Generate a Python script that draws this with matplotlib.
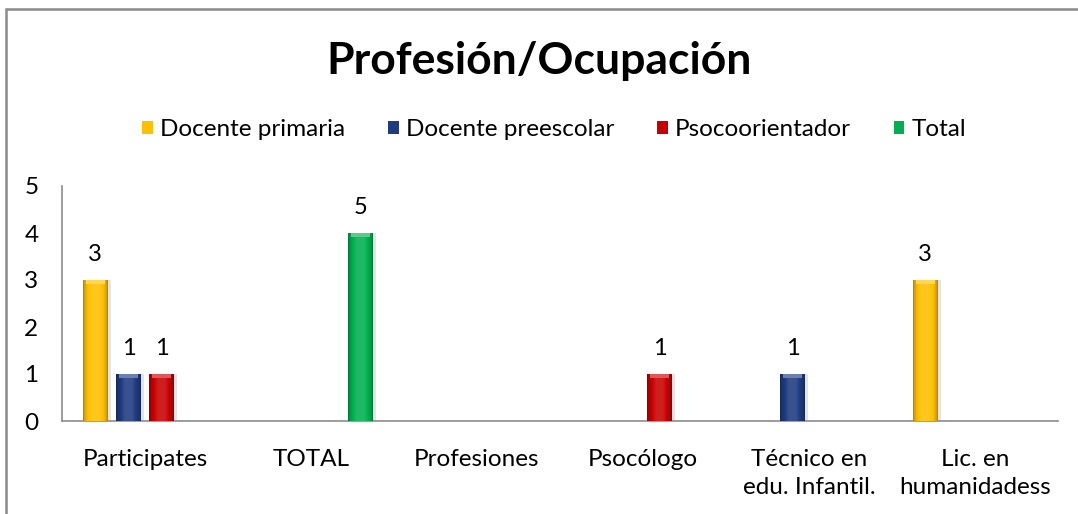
import numpy as np
import matplotlib
matplotlib.use("Agg")
import matplotlib.pyplot as plt
from matplotlib.patches import Patch, Rectangle
from matplotlib.colors import to_rgb

plt.rcParams['font.family'] = ['Lato', 'DejaVu Sans']

# data
categories = ["Participates", "TOTAL", "Profesiones", "Psocólogo",
              "Técnico en\nedu. Infantil.", "Lic. en\nhumanidadess"]
series_names = ["Docente primaria", "Docente preescolar", "Psocoorientador", "Total"]
docente_primaria = [3, 0, 0, 0, 0, 3]
docente_preescolar = [1, 0, 0, 0, 1, 0]
psocoorientador = [1, 0, 0, 1, 0, 0]
total = [0, 4, 0, 0, 0, 0]
# data labels as printed on the chart (the TOTAL bar is labelled 5)
total_labels = ["", "5", "", "", "", ""]
series_values = [docente_primaria, docente_preescolar, psocoorientador, total]
colors = ["#FFC000", "#1F3B80", "#C80000", "#00B050"]


def shade(c, f):
    r = np.array(to_rgb(c))
    if f >= 0:
        return r + (1 - r) * f
    return r * (1 + f)


fig = plt.figure(figsize=(10.78, 5.14), dpi=100)
ax = fig.add_axes([62 / 1078, 1 - 421 / 514, 996 / 1078, 235 / 514])

x = np.arange(len(categories))
step = 0.2
width = 0.15

for i, (vals, col) in enumerate(zip(series_values, colors)):
    pos = x + (i - 1.5) * step
    bars = ax.bar(pos, vals, width, color=col, zorder=3)
    labels = total_labels if series_names[i] == "Total" else [str(v) for v in vals]
    for b, v, lab in zip(bars, vals, labels):
        if v == 0:
            b.set_visible(False)
            continue
        x0, w, h = b.get_x(), b.get_width(), b.get_height()
        # horizontal gradient: darker edges, lighter middle
        t = np.linspace(0, 1, 60)
        prof = np.where(t < 0.5, -0.35 + 0.55 * (t / 0.5) ** 0.5, -0.35 + 0.55 * ((1 - t) / 0.5) ** 0.5)
        prof = np.clip(prof, -0.35, 0.12)
        img = np.array([[shade(col, p) for p in prof]])
        im = ax.imshow(img, extent=[x0, x0 + w, 0, h], aspect='auto', zorder=4,
                       interpolation='bilinear')
        im.set_clip_path(b)
        # lighter bevel at the top
        ax.add_patch(Rectangle((x0 + w * 0.12, h - 0.09), w * 0.76, 0.09,
                               color=shade(col, 0.35), lw=0, zorder=5))
        # soft shadow on the right
        ax.add_patch(Rectangle((x0 + w, 0), w * 0.12, h, color="#e4e4e4", lw=0, zorder=2))
        ax.text(b.get_x() + w / 2, h + 0.55, lab, ha='center', va='center',
                fontsize=17, color="#000000")

ax.set_xlim(-0.5, len(categories) - 0.5)
ax.set_ylim(0, 5)
ax.set_yticks(range(6))
ax.set_xticks(x)
ax.set_xticklabels(categories, fontsize=17.5, linespacing=1.4, va='top')
ax.tick_params(axis='both', length=0, labelsize=17.5)
ax.tick_params(axis='y', pad=17)
ax.tick_params(axis='x', pad=20)
for s in ['top', 'right']:
    ax.spines[s].set_visible(False)
for s in ['left', 'bottom']:
    ax.spines[s].set_color('#8c8c8c')
    ax.spines[s].set_linewidth(1.2)

fig.text(0.5, 1 - 61 / 514, "Profesión/Ocupación", ha='center', va='center',
         fontsize=32, fontweight='bold')

handles = [Patch(facecolor=c, edgecolor='none') for c in colors]
fig.legend(handles, series_names, loc='center', bbox_to_anchor=(0.514, 1 - 130 / 514),
           ncol=4, frameon=False, fontsize=17.5, handlelength=0.45, handleheight=0.45,
           handletextpad=0.3, columnspacing=1.75)

fig.patches.append(Rectangle((6 / 1078, -0.05), 1.1, 1.05 - 9 / 514, transform=fig.transFigure,
                             fill=False, edgecolor='#8a8a8a', lw=1.8))

fig.savefig("out.png", dpi=100)
